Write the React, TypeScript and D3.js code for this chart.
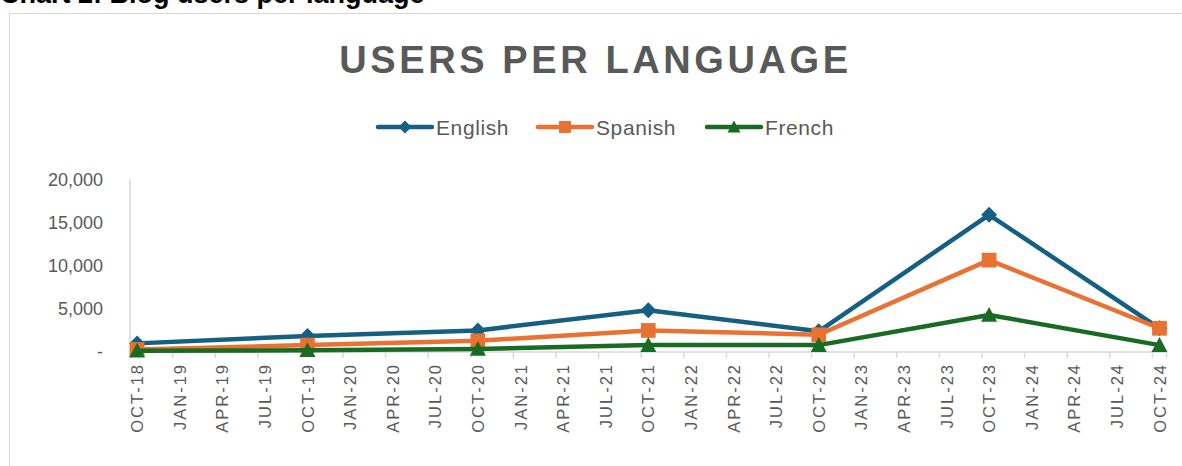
import React from "react";
import * as d3 from "d3";

const months = ["2018-10", "2019-10", "2020-10", "2021-10", "2022-10", "2023-10", "2024-10"];
const english = [1000, 1850, 2500, 4850, 2400, 15900, 2750];
const spanish = [300, 800, 1300, 2500, 2000, 10650, 2750];
const french = [150, 200, 350, 800, 800, 4300, 800];
const yTicks = [0, 5000, 10000, 15000, 20000];
const xTickLabels = [
  "OCT-18", "JAN-19", "APR-19", "JUL-19", "OCT-19", "JAN-20", "APR-20", "JUL-20",
  "OCT-20", "JAN-21", "APR-21", "JUL-21", "OCT-21", "JAN-22", "APR-22", "JUL-22",
  "OCT-22", "JAN-23", "APR-23", "JUL-23", "OCT-23", "JAN-24", "APR-24", "JUL-24", "OCT-24",
];

const seriesList = [
  { name: "English", values: english, color: "#156082", marker: "diamond" },
  { name: "Spanish", values: spanish, color: "#E97132", marker: "square" },
  { name: "French", values: french, color: "#196B24", marker: "triangle" },
];

const W = 1182;
const H = 466;
const plotLeft = 130;
const plotRight = 1166.6;
const plotTop = 179.5;
const plotBottom = 352;
const textColor = "#595959";
const font = "'Liberation Sans', Arial, sans-serif";

const startDate = new Date(2018, 9, 1);
const monthIndex = (s: string) => {
  const [y, m] = s.split("-").map(Number);
  return d3.timeMonth.count(startDate, new Date(y, m - 1, 1));
};
const totalMonths = monthIndex("2024-10") + 1;

const x = d3.scaleLinear().domain([0, totalMonths]).range([plotLeft, plotRight]);
const y = d3.scaleLinear().domain([0, 20000]).range([plotBottom, plotTop]);

function Marker({ type, cx, cy, color, size }: { type: string; cx: number; cy: number; color: string; size: number }) {
  if (type === "diamond") {
    const s = size / 2;
    return <path d={`M${cx},${cy - s}L${cx + s},${cy}L${cx},${cy + s}L${cx - s},${cy}Z`} fill={color} />;
  }
  if (type === "square") {
    const s = (size * 0.92) / 2;
    return <rect x={cx - s} y={cy - s} width={2 * s} height={2 * s} fill={color} />;
  }
  const s = size / 2;
  return <path d={`M${cx},${cy - s}L${cx + s},${cy + s * 0.85}L${cx - s},${cy + s * 0.85}Z`} fill={color} />;
}

export default function App() {
  const line = d3
    .line<number>()
    .x((_, i) => x(monthIndex(months[i]) + 0.5))
    .y((v) => y(v));

  const legendX = [378, 538, 707];

  return (
    <svg
      width={W}
      height={H}
      style={{ position: "absolute", left: 0, top: 0, background: "#fff" }}
      fontFamily={font}
    >
      <text x={0} y={3} fontSize={27} fontWeight="bold" fill="#000">
        Chart 2: Blog users per language
      </text>
      <rect x={9.5} y={13.5} width={W} height={H} fill="#fff" stroke="#d9d9d9" strokeWidth={1} />

      <text
        x={(W + 9) / 2}
        y={73}
        textAnchor="middle"
        fontSize={38}
        fontWeight="bold"
        letterSpacing={3.6}
        fill={textColor}
      >
        USERS PER LANGUAGE
      </text>

      {seriesList.map((s, i) => (
        <g key={s.name}>
          <line x1={legendX[i]} x2={legendX[i] + 54} y1={127} y2={127} stroke={s.color} strokeWidth={4.5} strokeLinecap="round" />
          <Marker type={s.marker} cx={legendX[i] + 27} cy={127} color={s.color} size={13} />
          <text x={legendX[i] + 58} y={127} dominantBaseline="central" fontSize={21} letterSpacing={0.6} fill={textColor}>
            {s.name}
          </text>
        </g>
      ))}

      {yTicks.map((t) => (
        <text key={t} x={103} y={y(t)} textAnchor="end" dominantBaseline="central" fontSize={18} fill={textColor}>
          {t === 0 ? "-" : d3.format(",")(t)}
        </text>
      ))}

      <line x1={plotLeft} x2={plotLeft} y1={plotTop} y2={plotBottom} stroke="#d9d9d9" strokeWidth={1.5} />
      <line x1={plotLeft} x2={plotRight} y1={plotBottom} y2={plotBottom} stroke="#d9d9d9" strokeWidth={1.5} />
      {xTickLabels.map((lab, i) => {
        const m = i * 3;
        return (
          <g key={lab}>
            <line x1={x(m)} x2={x(m)} y1={plotBottom} y2={plotBottom + 6} stroke="#d9d9d9" strokeWidth={1.5} />
            <text
              transform={`translate(${x(m + 0.5)},${363}) rotate(-90)`}
              textAnchor="end"
              dominantBaseline="central"
              fontSize={16.5}
              letterSpacing={2}
              fill={textColor}
            >
              {lab}
            </text>
          </g>
        );
      })}
      <line x1={plotRight} x2={plotRight} y1={plotBottom} y2={plotBottom + 6} stroke="#d9d9d9" strokeWidth={1.5} />

      {seriesList.map((s) => (
        <g key={s.name}>
          <path d={line(s.values) || ""} fill="none" stroke={s.color} strokeWidth={4.5} strokeLinejoin="round" />
          {s.values.map((v, i) => (
            <Marker key={i} type={s.marker} cx={x(monthIndex(months[i]) + 0.5)} cy={y(v)} color={s.color} size={16} />
          ))}
        </g>
      ))}
    </svg>
  );
}
